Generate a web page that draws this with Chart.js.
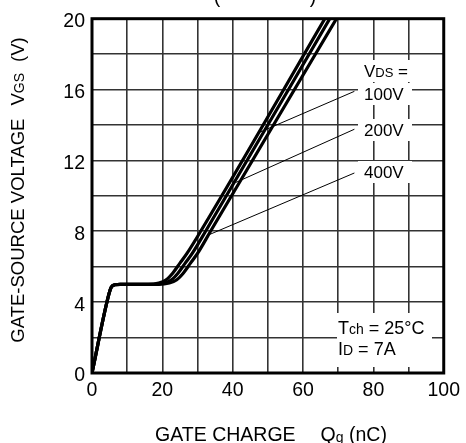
<!DOCTYPE html>
<html>
<head>
<meta charset="utf-8">
<script src="https://cdn.jsdelivr.net/npm/chart.js@4.4.0/dist/chart.umd.min.js"></script>
<style>
html, body { margin: 0; padding: 0; background: #fff; }
#wrap { width: 466px; height: 443px; }
</style>
</head>
<body>
<div id="wrap"><canvas id="c"></canvas></div>
<script>
// gate charge curves
var qg100  = [0, 4.8, 5.5, 6.5, 8, 16, 19, 21, 23, 25, 27, 30.9, 66.2];
var vgs100 = [0, 4.45, 4.85, 4.98, 5, 5, 5.08, 5.25, 5.65, 6.2, 6.75, 8, 20];
var qg200  = [0, 4.8, 5.5, 6.5, 8, 17.5, 20.5, 22.5, 24.5, 26.5, 28.5, 32.3, 67.6];
var vgs200 = [0, 4.45, 4.85, 4.98, 5, 5, 5.08, 5.25, 5.65, 6.2, 6.75, 8, 20];
var qg400  = [0, 4.8, 5.5, 6.5, 8, 19, 22, 24, 26, 28, 30, 33.7, 69.5];
var vgs400 = [0, 4.45, 4.85, 4.98, 5, 5, 5.08, 5.25, 5.65, 6.2, 6.75, 8, 20];

var xLabels = [0, 20, 40, 60, 80, 100];
var yLabels = [0, 4, 8, 12, 16, 20];

// leader lines (data coords): label end -> curve
var leaderFrom = [[74.6, 15.9], [74.6, 13.76], [74.6, 11.29]];
var leaderTo   = [[47.3, 13.56], [40.8, 10.75], [33.2, 7.8]];

function pts(xs, ys) {
  var out = [];
  for (var i = 0; i < xs.length; i++) out.push({x: xs[i], y: ys[i]});
  return out;
}

var FONT = '"Liberation Sans", Arial, Helvetica, sans-serif';

function partW(ctx, p) {
  if (p.gap) return p.gap;
  ctx.font = p.s + 'px ' + FONT;
  return ctx.measureText(p.t).width;
}
function richWidth(ctx, parts) {
  var w = 0;
  parts.forEach(function(p) { w += partW(ctx, p); });
  return w;
}
function drawRich(ctx, parts, x, y, align) {
  var w = richWidth(ctx, parts);
  var cx = align === 'center' ? x - w / 2 : x;
  ctx.textAlign = 'left';
  ctx.textBaseline = 'alphabetic';
  ctx.fillStyle = '#000';
  parts.forEach(function(p) {
    var pw = partW(ctx, p);
    if (!p.gap) ctx.fillText(p.t, cx, y + (p.dy || 0));
    cx += pw;
  });
  return w;
}

var extras = {
  id: 'extras',
  afterDatasetsDraw: function(chart) {
    var ctx = chart.ctx, xs = chart.scales.x, ys = chart.scales.y;
    ctx.save();
    ctx.strokeStyle = '#000';
    ctx.lineWidth = 1;
    for (var i = 0; i < leaderFrom.length; i++) {
      ctx.beginPath();
      ctx.moveTo(xs.getPixelForValue(leaderFrom[i][0]), ys.getPixelForValue(leaderFrom[i][1]));
      ctx.lineTo(xs.getPixelForValue(leaderTo[i][0]), ys.getPixelForValue(leaderTo[i][1]));
      ctx.stroke();
    }
    ctx.restore();
  },
  afterDraw: function(chart) {
    var ctx = chart.ctx, a = chart.chartArea;
    ctx.save();

    // V_DS labels with white backing
    var lab = [
      {parts: [{t: 'V', s: 17}, {t: 'DS', s: 13}, {t: ' =', s: 17}], y: 77},
      {parts: [{t: '100V', s: 17}], y: 100},
      {parts: [{t: '200V', s: 17}], y: 136},
      {parts: [{t: '400V', s: 17}], y: 178}
    ];
    lab.forEach(function(l) {
      var w = richWidth(ctx, l.parts);
      ctx.fillStyle = '#fff';
      ctx.fillRect(358, l.y - 17, Math.max(w + 10, 54), 22);
    });
    lab.forEach(function(l) { drawRich(ctx, l.parts, 364, l.y, 'left'); });

    // condition box
    ctx.fillStyle = '#fff';
    ctx.fillRect(337, 313, 95, 54);
    drawRich(ctx, [{t: 'T', s: 18}, {t: 'ch', s: 14}, {t: ' = 25\u00B0C', s: 18}], 338, 334, 'left');
    drawRich(ctx, [{t: 'I', s: 18}, {t: 'D', s: 14}, {t: ' = 7A', s: 18}], 338, 355, 'left');

    // plot frame
    ctx.strokeStyle = '#000';
    ctx.lineWidth = 3;
    ctx.strokeRect(a.left, a.top, a.right - a.left, a.bottom - a.top);

    // axis titles
    drawRich(ctx, [{t: 'GATE CHARGE', s: 19.5}, {gap: 25}, {t: 'Q', s: 19.5},
                   {t: 'g', s: 14, dy: 1}, {t: ' (nC)', s: 19.5}], 271, 441, 'center');
    ctx.save();
    ctx.translate(17, 190);
    ctx.rotate(-Math.PI / 2);
    drawRich(ctx, [{t: 'GATE-SOURCE VOLTAGE', s: 18.5}, {gap: 13}, {t: 'V', s: 18.5},
                   {t: 'GS', s: 14}, {gap: 11}, {t: '(V)', s: 18.5}], 0, 6.5, 'center');
    ctx.restore();

    // bottom of the cut-off heading
    ctx.font = '19.5px ' + FONT;
    ctx.fillStyle = '#000';
    ctx.textAlign = 'center';
    ctx.textBaseline = 'alphabetic';
    ctx.fillText('(', 217, 3);
    ctx.fillText(')', 313, 3);
    ctx.restore();
  }
};

var lineStyle = {
  borderColor: '#000',
  borderWidth: 3.2,
  pointRadius: 0,
  fill: false,
  cubicInterpolationMode: 'monotone'
};

new Chart(document.getElementById('c'), {
  type: 'line',
  data: {
    datasets: [
      Object.assign({label: '100V', data: pts(qg100, vgs100)}, lineStyle),
      Object.assign({label: '200V', data: pts(qg200, vgs200)}, lineStyle),
      Object.assign({label: '400V', data: pts(qg400, vgs400)}, lineStyle)
    ]
  },
  options: {
    responsive: true,
    maintainAspectRatio: false,
    animation: false,
    layout: {padding: {top: 17, right: 19, left: 0, bottom: 0}},
    plugins: {legend: {display: false}, tooltip: {enabled: false}},
    scales: {
      x: {
        type: 'linear', min: 0, max: 100,
        afterFit: function(s) { s.height = 70; },
        grid: {color: '#333', lineWidth: 1.6, drawTicks: false},
        border: {display: false},
        ticks: {
          stepSize: 10, autoSkip: false, maxRotation: 0, padding: 6,
          color: '#000', font: {family: FONT, size: 19.5},
          callback: function(v) { return xLabels.indexOf(v) >= 0 ? String(v) : ''; }
        }
      },
      y: {
        type: 'linear', min: 0, max: 20,
        afterFit: function(s) { s.width = 92; },
        grid: {color: '#333', lineWidth: 1.6, drawTicks: false},
        border: {display: false},
        ticks: {
          stepSize: 2, autoSkip: false, padding: 7, labelOffset: 3,
          color: '#000', font: {family: FONT, size: 19.5},
          callback: function(v) { return yLabels.indexOf(v) >= 0 ? String(v) : ''; }
        }
      }
    }
  },
  plugins: [extras]
});
</script>
</body>
</html>
